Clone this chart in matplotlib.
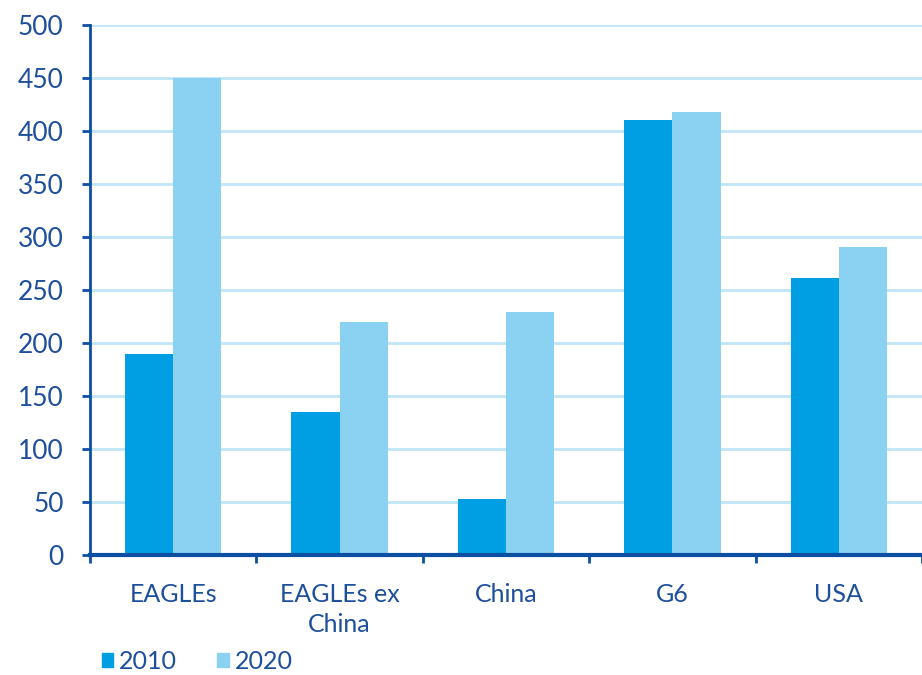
import numpy as np
import matplotlib

matplotlib.use('Agg')
import matplotlib.pyplot as plt
from matplotlib.patches import Patch

# Chart data
categories = ['EAGLEs', 'EAGLEs ex\nChina', 'China', 'G6', 'USA']
values_2010 = [190, 135, 53, 410, 261]
values_2020 = [450, 220, 229, 418, 291]
series_labels = ['2010', '2020']

dark_blue = '#009FE3'
light_blue = '#8AD1F2'
text_color = '#1D4F9C'
axis_color = '#0B4EA2'
grid_color = '#BFE5F6'

plt.rcParams['font.family'] = ['Lato', 'DejaVu Sans']

fig = plt.figure(figsize=(9.22, 6.75), dpi=100)
ax = fig.add_axes([90 / 922, 120 / 675, 832 / 922, 530 / 675])

x = np.arange(len(categories))
width = 0.29
ax.bar(x - width / 2, values_2010, width, color=dark_blue, zorder=3)
ax.bar(x + width / 2, values_2020, width, color=light_blue, zorder=3)

ax.set_xlim(-0.5, len(categories) - 0.5)
ax.set_ylim(0, 500)
ax.set_yticks(range(0, 501, 50))
ax.tick_params(axis='y', colors=axis_color, labelcolor=text_color, labelsize=19,
               length=6, width=2, direction='out', pad=13)
ax.grid(axis='y', color=grid_color, linewidth=2, zorder=0)

# x ticks at category boundaries, labels at centres
ax.set_xticks(np.arange(len(categories) + 1) - 0.5)
ax.set_xticklabels([])
ax.set_xticks(x, minor=True)
ax.set_xticklabels(categories, minor=True, linespacing=1.4)
ax.tick_params(axis='x', which='major', colors=axis_color, length=6, width=2)
ax.tick_params(axis='x', which='minor', length=0, labelcolor=text_color,
               labelsize=18, pad=20)

for side in ['top', 'right']:
    ax.spines[side].set_visible(False)
ax.spines['left'].set_color(axis_color)
ax.spines['left'].set_linewidth(2)
ax.spines['bottom'].set_color(axis_color)
ax.spines['bottom'].set_linewidth(3)
ax.spines['bottom'].set_zorder(4)

handles = [Patch(color=dark_blue), Patch(color=light_blue)]
fig.legend(handles, series_labels, loc='lower left', bbox_to_anchor=(0.086, -0.03),
           ncol=2, frameon=False, fontsize=18, labelcolor=text_color,
           handlelength=0.45, handleheight=0.45, handletextpad=0.25, columnspacing=1.6)

plt.savefig('out.png', dpi=100)
plt.close()
